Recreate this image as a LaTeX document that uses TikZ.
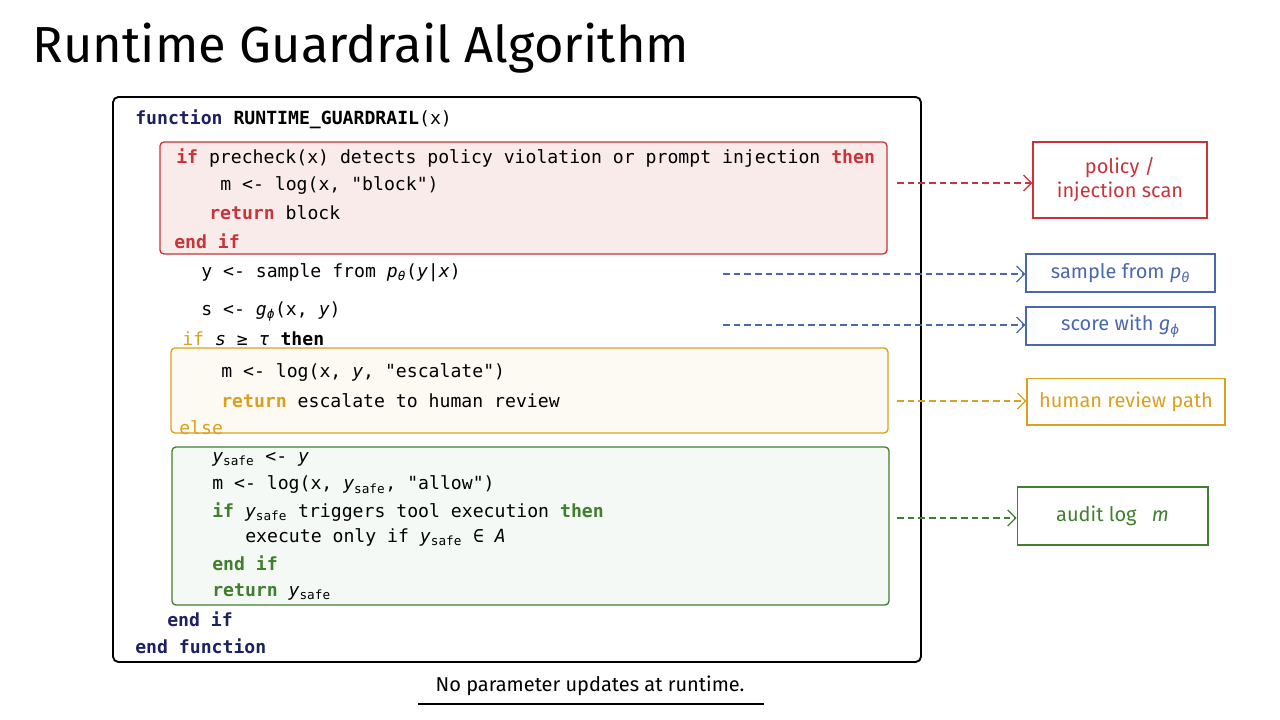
\documentclass[tikz,border=0pt]{standalone}
\usepackage{fontspec}
\setmainfont{Fira Sans}
\setmonofont{DejaVu Sans Mono}
\usetikzlibrary{positioning,arrows.meta}
\definecolor{kwnavy}{HTML}{1C2260}
\definecolor{redc}{HTML}{C8343A}
\definecolor{yelc}{HTML}{DCA020}
\definecolor{grnc}{HTML}{3F7F2E}
\definecolor{bluc}{HTML}{4A68B0}
\newcommand{\kw}[2]{\textcolor{#1}{\bfseries #2}}
\newcommand{\ysf}{\textit{y}\textsubscript{safe}}
\tikzset{
  code/.style={anchor=west, font=\ttfamily\fontsize{13.6}{15}\selectfont, inner sep=0pt},
  block/.style={draw=#1, line width=1pt, rounded corners=3pt},
  tag/.style={draw=#1, text=#1, line width=1pt, font=\fontsize{15}{18}\selectfont, align=center, inner sep=0pt},
  link/.style={draw=#1, dash pattern=on 5pt off 3pt, line width=0.9pt, -{Straight Barb[length=6pt]}}
}
\begin{document}
\begin{tikzpicture}[x=0.75pt, y=-0.75pt]
  \useasboundingbox (0,0) rectangle (1280,720);
  \node[anchor=west, font=\fontsize{38}{42}\selectfont] (title) at (28,48) {Runtime Guardrail Algorithm};

  % frame and blocks
  \draw[line width=1.4pt, rounded corners=4pt] (113,97) rectangle (921,662);
  \draw[block=redc, fill=redc!10] (160,142) rectangle (887,254);
  \draw[block=yelc, fill=yelc!5] (171,348) rectangle (888,433);
  \draw[block=grnc, fill=grnc!5] (172,447) rectangle (889,605);

  % code lines
  \node[code] (l1) at (135,119) {\kw{kwnavy}{function} \textbf{RUNTIME\_GUARDRAIL}(x)};
  \node[code] (l2) at (176,158) {\kw{redc}{if} precheck(x) detects policy violation or prompt injection \kw{redc}{then}};
  \node[code] (l3) at (220,186) {m <- log(x, "block")};
  \node[code] (l4) at (209,213) {\kw{redc}{return} block};
  \node[code] (l5) at (174,241) {\kw{redc}{end if}};
  \node[code] (l6) at (201,273) {y <- sample from \textit{p}\textsubscript{\textit{θ}}(\textit{y}|\textit{x})};
  \node[code] (l7) at (201,311) {s <- \textit{g}\textsubscript{\textit{ϕ}}(x, \textit{y})};
  \node[code] (l8) at (182,339) {\textcolor{yelc}{if} \textit{s} ≥ \textit{τ} \textbf{then}};
  \node[code] (l9) at (221,373) {m <- log(x, \textit{y}, "escalate")};
  \node[code] (l10) at (221,401) {\kw{yelc}{return} escalate to human review};
  \node[code] (l11) at (179,428) {\textcolor{yelc}{else}};
  \node[code] (l12) at (212,459) {\ysf{} <- \textit{y}};
  \node[code] (l13) at (212,485) {m <- log(x, \ysf, "allow")};
  \node[code] (l14) at (212,512) {\kw{grnc}{if} \ysf{} triggers tool execution \kw{grnc}{then}};
  \node[code] (l15) at (245,537) {execute only if \ysf{} ∈ \textit{A}};
  \node[code] (l16) at (212,563) {\kw{grnc}{end if}};
  \node[code] (l17) at (212,592) {\kw{grnc}{return} \ysf};
  \node[code] (l18) at (167,619) {\kw{kwnavy}{end if}};
  \node[code] (l19) at (135,646) {\kw{kwnavy}{end function}};

  % side tags
  \node[tag=redc, minimum width=130.5pt, minimum height=57pt] (scan) at (1120,180) {policy /\\injection scan};
  \node[tag=bluc, minimum width=141.75pt, minimum height=28.5pt] (samp) at (1120.5,273) {sample from \textit{p}\textsubscript{\textit{θ}}};
  \node[tag=bluc, minimum width=141.75pt, minimum height=28.5pt] (score) at (1120.5,326) {score with \textit{g}\textsubscript{\textit{ϕ}}};
  \node[tag=yelc, minimum width=148.5pt, minimum height=35pt] (human) at (1126,401.5) {human review path};
  \node[tag=grnc, minimum width=143pt, minimum height=43.5pt] (audit) at (1112.5,516) {audit log \enspace\textit{m}};

  \coordinate (r1) at (897,183);
  \coordinate (b1) at (723,274);
  \coordinate (b2) at (723,325);
  \coordinate (y1) at (897,401);
  \coordinate (g1) at (897,518);
  \draw[link=redc] (r1) -- (r1 -| scan.west);
  \draw[link=bluc] (b1) -- (b1 -| samp.west);
  \draw[link=bluc] (b2) -- (b2 -| score.west);
  \draw[link=yelc] (y1) -- (y1 -| human.west);
  \draw[link=grnc] (g1) -- (g1 -| audit.west);

  % caption
  \node[font=\fontsize{15}{18}\selectfont] (note) at (590,686) {No parameter updates at runtime.};
  \draw[line width=1.2pt] (418,704) -- (764,704);
\end{tikzpicture}
\end{document}
